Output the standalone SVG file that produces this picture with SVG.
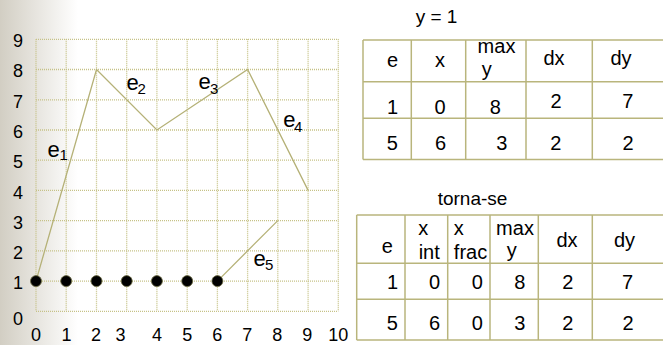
<svg xmlns="http://www.w3.org/2000/svg" width="663" height="345" viewBox="0 0 663 345">
<defs>
<linearGradient id="bg" x1="0" y1="0" x2="1" y2="0">
<stop offset="0" stop-color="#d2cec3"/>
<stop offset="1" stop-color="#ffffff"/>
</linearGradient>
<style>
text{font-family:"Liberation Sans",Arial,sans-serif;fill:#000}
.ax{font-size:18px;text-anchor:middle}
.el{font-size:22px}
.sub{font-size:15px}
.tt{font-size:19px;text-anchor:middle}
.tc{font-size:20px;text-anchor:middle}
.grid line{stroke:#c6c287;stroke-width:1.3;stroke-dasharray:1 1}
.tbl line{stroke:#b9b57c;stroke-width:1.5}
.edge{fill:none;stroke:#b5b177;stroke-width:1.3}
.dot{fill:#000;stroke:#6b6a40;stroke-width:0.8}
</style>
</defs>
<rect x="0" y="0" width="663" height="345" fill="#fff"/>
<rect x="0" y="0" width="78" height="345" fill="url(#bg)"/>

<g id="grid" class="grid">
<line x1="36" y1="39.3" x2="36" y2="311.3"/>
<line x1="66.2" y1="39.3" x2="66.2" y2="311.3"/>
<line x1="96.5" y1="39.3" x2="96.5" y2="311.3"/>
<line x1="126.7" y1="39.3" x2="126.7" y2="311.3"/>
<line x1="156.9" y1="39.3" x2="156.9" y2="311.3"/>
<line x1="187.2" y1="39.3" x2="187.2" y2="311.3"/>
<line x1="217.4" y1="39.3" x2="217.4" y2="311.3"/>
<line x1="247.6" y1="39.3" x2="247.6" y2="311.3"/>
<line x1="277.8" y1="39.3" x2="277.8" y2="311.3"/>
<line x1="308.1" y1="39.3" x2="308.1" y2="311.3"/>
<line x1="338.3" y1="39.3" x2="338.3" y2="311.3"/>
<line x1="36" y1="311.3" x2="338.3" y2="311.3"/>
<line x1="36" y1="281.1" x2="338.3" y2="281.1"/>
<line x1="36" y1="250.9" x2="338.3" y2="250.9"/>
<line x1="36" y1="220.6" x2="338.3" y2="220.6"/>
<line x1="36" y1="190.4" x2="338.3" y2="190.4"/>
<line x1="36" y1="160.2" x2="338.3" y2="160.2"/>
<line x1="36" y1="130" x2="338.3" y2="130"/>
<line x1="36" y1="99.8" x2="338.3" y2="99.8"/>
<line x1="36" y1="69.5" x2="338.3" y2="69.5"/>
<line x1="36" y1="39.3" x2="338.3" y2="39.3"/>
</g>

<g id="y-axis-labels">
<text class="ax" x="18" y="47">9</text>
<text class="ax" x="18" y="77">8</text>
<text class="ax" x="18" y="108">7</text>
<text class="ax" x="18" y="138">6</text>
<text class="ax" x="18" y="168">5</text>
<text class="ax" x="18" y="198.5">4</text>
<text class="ax" x="18" y="229">3</text>
<text class="ax" x="18" y="259">2</text>
<text class="ax" x="18" y="289">1</text>
<text class="ax" x="18" y="325">0</text>
</g>
<g id="x-axis-labels">
<text class="ax" x="36" y="341">0</text>
<text class="ax" x="66.5" y="341">1</text>
<text class="ax" x="96" y="341">2</text>
<text class="ax" x="120.5" y="341">3</text>
<text class="ax" x="157" y="341">4</text>
<text class="ax" x="187.3" y="341">5</text>
<text class="ax" x="217.3" y="341">6</text>
<text class="ax" x="247.3" y="341">7</text>
<text class="ax" x="277.3" y="341">8</text>
<text class="ax" x="307.3" y="341">9</text>
<text class="ax" x="338.3" y="341">10</text>
</g>

<g id="connectors">
<polyline id="e1-e4" class="edge" points="36,281.1 96.5,69.5 156.9,130 247.6,69.5 308.1,190.4"/>
<line id="e5" class="edge" x1="217.4" y1="281.1" x2="277.8" y2="220.6"/>
</g>

<g id="edge-labels">
<g id="lbl-e1"><text class="el" x="47.5" y="157">e</text><text class="sub" x="59.5" y="160">1</text></g>
<g id="lbl-e2"><text class="el" x="126.5" y="90">e</text><text class="sub" x="137.5" y="94">2</text></g>
<g id="lbl-e3"><text class="el" x="198.5" y="89.3">e</text><text class="sub" x="210" y="94">3</text></g>
<g id="lbl-e4"><text class="el" x="283.3" y="126.7">e</text><text class="sub" x="294" y="131.7">4</text></g>
<g id="lbl-e5"><text class="el" x="253.5" y="266">e</text><text class="sub" x="265" y="270">5</text></g>
</g>

<g id="points">
<circle class="dot" cx="36" cy="281.1" r="5.5"/>
<circle class="dot" cx="66.2" cy="281.1" r="5.5"/>
<circle class="dot" cx="96.5" cy="281.1" r="5.5"/>
<circle class="dot" cx="126.7" cy="281.1" r="5.5"/>
<circle class="dot" cx="156.9" cy="281.1" r="5.5"/>
<circle class="dot" cx="187.2" cy="281.1" r="5.5"/>
<circle class="dot" cx="217.4" cy="281.1" r="5.5"/>
</g>

<g id="table1">
<text class="tt" x="436.5" y="22.5">y = 1</text>
<g class="tbl">
<line x1="363" y1="40" x2="663" y2="40"/>
<line x1="363" y1="81.7" x2="663" y2="81.7"/>
<line x1="363" y1="118.3" x2="663" y2="118.3"/>
<line x1="363" y1="159.5" x2="663" y2="159.5"/>
<line x1="363" y1="40" x2="363" y2="159.5"/>
<line x1="411.3" y1="40" x2="411.3" y2="159.5"/>
<line x1="465.7" y1="40" x2="465.7" y2="159.5"/>
<line x1="526" y1="40" x2="526" y2="159.5"/>
<line x1="592.3" y1="40" x2="592.3" y2="159.5"/>
</g>
<text class="tc" x="392.5" y="66.5">e</text>
<text class="tc" x="440" y="66.5">x</text>
<text class="tc" x="496.5" y="53">max</text>
<text class="tc" x="486.7" y="76">y</text>
<text class="tc" x="554" y="65">dx</text>
<text class="tc" x="621" y="65">dy</text>
<text class="tc" x="392.5" y="114">1</text>
<text class="tc" x="440" y="114">0</text>
<text class="tc" x="495.3" y="114">8</text>
<text class="tc" x="556" y="108.3">2</text>
<text class="tc" x="627.8" y="108.3">7</text>
<text class="tc" x="392.3" y="150">5</text>
<text class="tc" x="440.5" y="150">6</text>
<text class="tc" x="501.7" y="150">3</text>
<text class="tc" x="555.8" y="150">2</text>
<text class="tc" x="628" y="150">2</text>
</g>

<g id="table2">
<text class="tt" x="472.5" y="205">torna-se</text>
<g class="tbl">
<line x1="356.7" y1="215" x2="663" y2="215"/>
<line x1="356.7" y1="263.3" x2="663" y2="263.3"/>
<line x1="356.7" y1="299.3" x2="663" y2="299.3"/>
<line x1="356.7" y1="340" x2="663" y2="340"/>
<line x1="356.7" y1="215" x2="356.7" y2="340"/>
<line x1="405" y1="215" x2="405" y2="340"/>
<line x1="447.7" y1="215" x2="447.7" y2="340"/>
<line x1="490" y1="215" x2="490" y2="340"/>
<line x1="538.3" y1="215" x2="538.3" y2="340"/>
<line x1="592.3" y1="215" x2="592.3" y2="340"/>
</g>
<text class="tc" x="387.2" y="252.7">e</text>
<text class="tc" x="423.3" y="235">x</text>
<text class="tc" x="429.2" y="259">int</text>
<text class="tc" x="458.7" y="235">x</text>
<text class="tc" x="470.5" y="259">frac</text>
<text class="tc" x="515" y="235">max</text>
<text class="tc" x="511.7" y="257">y</text>
<text class="tc" x="567" y="246.7">dx</text>
<text class="tc" x="624.5" y="246.7">dy</text>
<text class="tc" x="392.5" y="289.3">1</text>
<text class="tc" x="434.5" y="289.3">0</text>
<text class="tc" x="477.2" y="289.3">0</text>
<text class="tc" x="519.7" y="289.3">8</text>
<text class="tc" x="567.8" y="289.3">2</text>
<text class="tc" x="627.5" y="289.3">7</text>
<text class="tc" x="392.3" y="330">5</text>
<text class="tc" x="434.5" y="330">6</text>
<text class="tc" x="477.2" y="330">0</text>
<text class="tc" x="519.7" y="330">3</text>
<text class="tc" x="567.8" y="330">2</text>
<text class="tc" x="628" y="330">2</text>
</g>
</svg>
